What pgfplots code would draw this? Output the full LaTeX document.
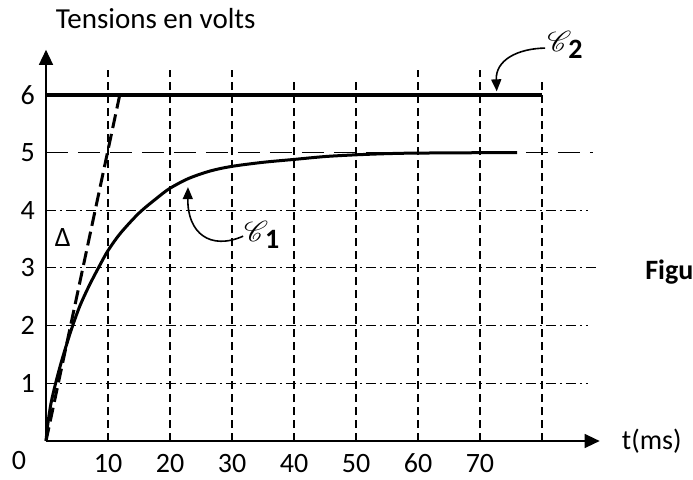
\documentclass[border=0pt]{standalone}
\usepackage{fontspec}
\setmainfont{Carlito}
\usepackage{mathrsfs}
\usepackage{pgfplots}
\pgfplotsset{compat=1.18}
\usetikzlibrary{arrows.meta}
\begin{document}
\begin{tikzpicture}
\path[use as bounding box] (-23pt,-19pt) rectangle (323.5pt,220.5pt);
\begin{axis}[
  at={(0,0)}, anchor=south west,
  scale only axis,
  x=3.1pt, y=28.85pt,
  xmin=0, xmax=89.3, ymin=0, ymax=6.78,
  axis lines=left,
  axis line style={line width=0.7pt, -{Triangle[length=7.5pt,width=7pt]}},
  xtick={10,20,30,40,50,60,70},
  ytick={1,2,3,4,5,6},
  major tick length=0pt,
  tick label style={font=\fontsize{14}{16}\selectfont},
  /pgf/number format/assume math mode=true,
  xticklabel style={yshift=-3.2pt, text height=9pt, text depth=0pt},
  yticklabel style={xshift=-2pt},
  clip=false,
]
% vertical dashed grid
\foreach \t/\top in {10/6.43,20/6.43,30/6.43,40/6.22,50/6.22,60/6.43,70/6.43,80/6.22}{
  \edef\tmp{\noexpand\draw[line width=0.8pt, dash pattern=on 4pt off 2.5pt] (axis cs:\t,0) -- (axis cs:\t,\top);}
  \tmp
}
% horizontal dash-dot grid
\foreach \u/\e in {1/87.4,2/87.4,3/88.9,4/87.4}{
  \edef\tmp{\noexpand\draw[line width=0.5pt, dash pattern=on 5pt off 2pt on 1pt off 2pt] (axis cs:0,\u) -- (axis cs:\e,\u);}
  \tmp
}
% asymptote 5 V
\addplot[line width=0.7pt, dash pattern=on 11pt off 5pt] coordinates {(0,5) (88.2,5)};
% C2
\addplot[line width=2pt] coordinates {(0,6) (80,6)};
% tangent
\addplot[line width=1.5pt, dash pattern=on 7pt off 3pt] coordinates {(0,0) (12,6.05)};
% C1
\addplot[line width=1.5pt, smooth, tension=0.5] coordinates {
 (0,0) (0.3,0.3) (0.8,0.65) (1.55,1.0) (2.5,1.38) (3.4,1.7) (4.3,2.0)
 (5.5,2.35) (7,2.7) (8.7,3.05) (10,3.3) (12,3.6) (15,3.95) (18,4.22)
 (20,4.38) (23,4.55) (26.5,4.68) (30,4.76) (35,4.83) (40,4.88) (45,4.93)
 (50,4.96) (55,4.98) (60,4.99) (76,5.0)};
% labels
\node[font=\fontsize{14.5}{17}\selectfont] at (axis cs:17.7,7.33) {Tensions en volts};
\node[font=\fontsize{14}{16}\selectfont] at (axis cs:97.7,0.0) {t(ms)};
\node[font=\fontsize{14}{16}\selectfont\bfseries, anchor=west, inner sep=0pt] at (axis cs:96.6,2.93) {Figure};
\node[font=\fontsize{14}{16}\selectfont] at (axis cs:-4.35,-0.34) {0};
\node[font=\fontsize{14}{16}\selectfont] at (axis cs:2.7,3.52) {Δ};
\node[font=\fontsize{14}{16}\selectfont] at (axis cs:34.8,3.57) {$\mathscr{C}$\kern-1.5pt\raisebox{-3.5pt}{\fontsize{14}{16}\selectfont\bfseries 1}};
\node[font=\fontsize{14}{16}\selectfont] at (axis cs:83.7,6.86) {$\mathscr{C}$\kern-1.5pt\raisebox{-3.5pt}{\fontsize{14}{16}\selectfont\bfseries 2}};
\draw[line width=0.8pt, -{Triangle[length=6pt,width=5pt]}] (axis cs:31.8,3.55) .. controls (axis cs:26.5,3.3) and (axis cs:22.8,3.6) .. (axis cs:22.9,4.40);
\draw[line width=0.8pt, -{Triangle[length=6pt,width=5pt]}] (axis cs:80.5,6.81) .. controls (axis cs:76,6.8) and (axis cs:72.5,6.6) .. (axis cs:72.7,6.06);
\end{axis}
\end{tikzpicture}
\end{document}
